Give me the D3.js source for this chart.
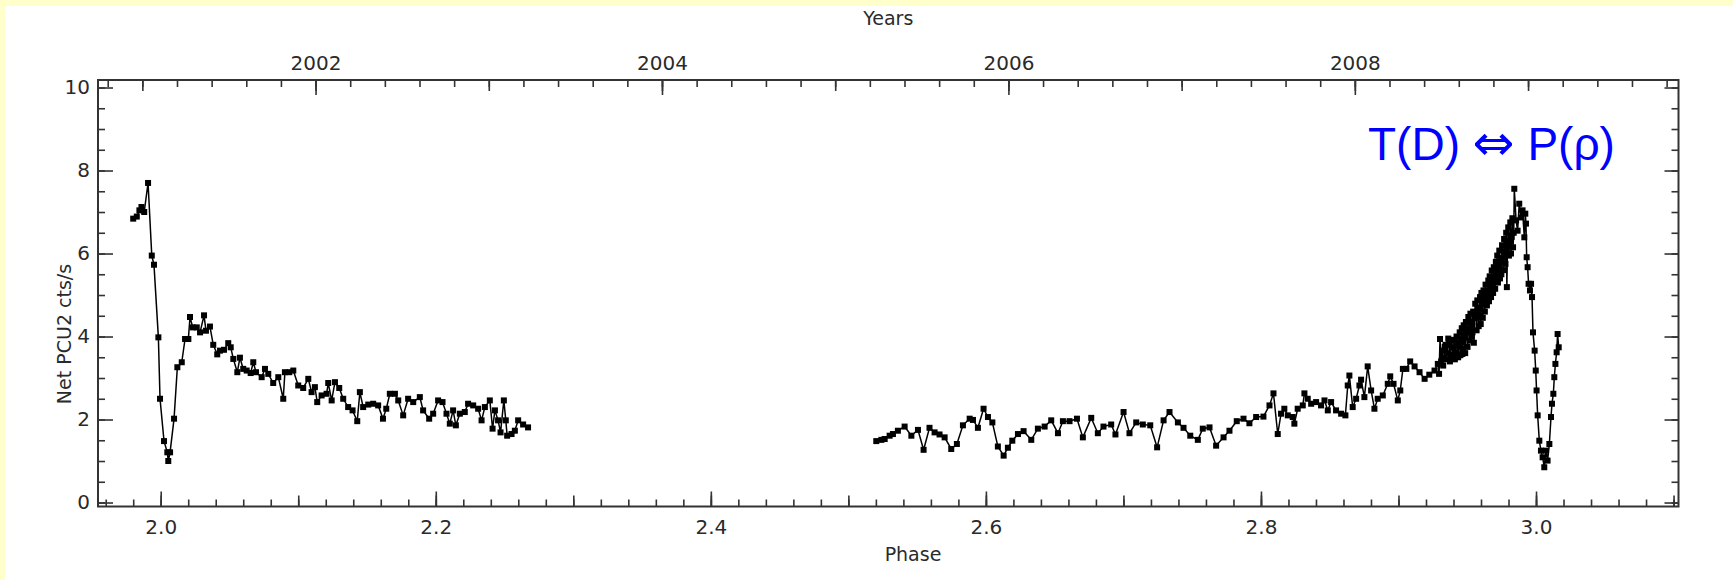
<!DOCTYPE html>
<html>
<head>
<meta charset="utf-8">
<script src="https://cdn.jsdelivr.net/npm/d3@7"></script>
<style>
  html, body { margin: 0; padding: 0; background: #fff; }
  svg { display: block; }
</style>
</head>
<body>
<svg id="chart"></svg>
<script>
// [phase, net PCU2 rate], one array per periastron passage
const passage2001 = [
  [1.9800, 6.84], [1.9826, 6.89], [1.9845, 7.04], [1.9860, 7.12], [1.9880, 7.00], [1.9908, 7.70],
  [1.9935, 5.95], [1.9951, 5.73], [1.9983, 3.98], [1.9995, 2.50], [2.0024, 1.48], [2.0048, 1.21],
  [2.0055, 1.00], [2.0068, 1.21], [2.0097, 2.02], [2.0121, 3.26], [2.0153, 3.38], [2.0177, 3.94],
  [2.0201, 3.94], [2.0213, 4.47], [2.0233, 4.22], [2.0262, 4.22], [2.0286, 4.10], [2.0315, 4.51],
  [2.0329, 4.14], [2.0358, 4.24], [2.0382, 3.80], [2.0411, 3.57], [2.0431, 3.66], [2.0460, 3.68],
  [2.0491, 3.84], [2.0509, 3.74], [2.0528, 3.46], [2.0557, 3.14], [2.0576, 3.49], [2.0600, 3.22],
  [2.0625, 3.18], [2.0654, 3.12], [2.0673, 3.38], [2.0693, 3.14], [2.0734, 3.02], [2.0758, 3.22],
  [2.0782, 3.10], [2.0818, 2.88], [2.0855, 3.02], [2.0891, 2.50], [2.0903, 3.14], [2.0935, 3.14],
  [2.0964, 3.18], [2.1000, 2.82], [2.1036, 2.76], [2.1073, 2.98], [2.1097, 2.66], [2.1121, 2.78],
  [2.1138, 2.42], [2.1170, 2.58], [2.1206, 2.62], [2.1218, 2.88], [2.1243, 2.46], [2.1267, 2.90],
  [2.1298, 2.76], [2.1327, 2.50], [2.1363, 2.30], [2.1395, 2.22], [2.1429, 1.96], [2.1448, 2.66],
  [2.1472, 2.30], [2.1509, 2.36], [2.1545, 2.38], [2.1581, 2.34], [2.1616, 2.02], [2.1640, 2.26],
  [2.1666, 2.62], [2.1703, 2.62], [2.1727, 2.46], [2.1763, 2.10], [2.1799, 2.50], [2.1836, 2.42],
  [2.1884, 2.54], [2.1908, 2.22], [2.1952, 2.02], [2.1981, 2.14], [2.2017, 2.46], [2.2049, 2.42],
  [2.2078, 2.14], [2.2102, 1.90], [2.2126, 2.22], [2.2146, 1.86], [2.2175, 2.14], [2.2211, 2.18],
  [2.2235, 2.38], [2.2272, 2.34], [2.2308, 2.26], [2.2333, 1.98], [2.2357, 2.30], [2.2393, 2.46],
  [2.2413, 1.78], [2.2430, 2.22], [2.2453, 1.98], [2.2471, 1.69], [2.2495, 2.46], [2.2509, 1.98],
  [2.2519, 1.61], [2.2551, 1.65], [2.2575, 1.73], [2.2599, 1.98], [2.2635, 1.88], [2.2671, 1.81]
];

const passage2009 = [
  [2.5203, 1.48], [2.5240, 1.51], [2.5264, 1.53], [2.5300, 1.61], [2.5324, 1.65], [2.5360, 1.73],
  [2.5409, 1.83], [2.5458, 1.61], [2.5506, 1.75], [2.5547, 1.27], [2.5590, 1.80], [2.5627, 1.69],
  [2.5663, 1.64], [2.5700, 1.57], [2.5748, 1.29], [2.5789, 1.41], [2.5833, 1.86], [2.5882, 2.02],
  [2.5906, 1.99], [2.5942, 1.80], [2.5983, 2.26], [2.6015, 2.06], [2.6047, 1.93], [2.6087, 1.35],
  [2.6129, 1.13], [2.6160, 1.32], [2.6192, 1.49], [2.6233, 1.65], [2.6274, 1.72], [2.6330, 1.51],
  [2.6378, 1.78], [2.6427, 1.83], [2.6475, 1.98], [2.6524, 1.67], [2.6560, 1.96], [2.6608, 1.96],
  [2.6662, 2.02], [2.6705, 1.57], [2.6766, 2.04], [2.6814, 1.67], [2.6855, 1.83], [2.6911, 1.88],
  [2.6942, 1.64], [2.7001, 2.18], [2.7044, 1.67], [2.7093, 1.93], [2.7141, 1.88], [2.7195, 1.86],
  [2.7245, 1.33], [2.7292, 1.98], [2.7335, 2.18], [2.7396, 1.93], [2.7437, 1.80], [2.7486, 1.61],
  [2.7541, 1.51], [2.7577, 1.78], [2.7626, 1.81], [2.7674, 1.37], [2.7728, 1.57], [2.7771, 1.73],
  [2.7824, 1.96], [2.7873, 2.02], [2.7916, 1.91], [2.7965, 2.06], [2.8018, 2.07], [2.8062, 2.34],
  [2.8091, 2.63], [2.8122, 1.65], [2.8146, 2.14], [2.8170, 2.26], [2.8195, 2.10], [2.8231, 2.06],
  [2.8243, 1.90], [2.8267, 2.26], [2.8304, 2.34], [2.8316, 2.63], [2.8340, 2.50], [2.8365, 2.38],
  [2.8401, 2.42], [2.8437, 2.34], [2.8462, 2.46], [2.8486, 2.22], [2.8510, 2.42], [2.8546, 2.22],
  [2.8583, 2.14], [2.8614, 2.10], [2.8631, 2.82], [2.8643, 3.06], [2.8667, 2.30], [2.8692, 2.50],
  [2.8716, 2.82], [2.8728, 2.96], [2.8752, 2.54], [2.8776, 3.28], [2.8801, 2.70], [2.8825, 2.26],
  [2.8849, 2.50], [2.8886, 2.58], [2.8922, 2.86], [2.8940, 3.04], [2.8964, 2.86], [2.8995, 2.46],
  [2.9013, 2.70], [2.9032, 3.22], [2.9057, 3.22], [2.9085, 3.40], [2.9117, 3.28], [2.9153, 3.14],
  [2.9190, 2.98], [2.9224, 3.08], [2.9262, 3.18], [2.9286, 3.34], [2.9295, 3.10], [2.9302, 3.94],
  [2.9310, 3.40], [2.9318, 3.66], [2.9325, 3.30], [2.9330, 3.48], [2.9336, 3.75], [2.9342, 3.80],
  [2.9348, 3.45], [2.9355, 3.60], [2.9362, 3.95], [2.9368, 3.84], [2.9374, 3.40], [2.9380, 3.56],
  [2.9386, 3.90], [2.9392, 3.74], [2.9398, 3.50], [2.9404, 3.92], [2.9410, 3.45], [2.9416, 3.62],
  [2.9422, 4.00], [2.9428, 3.78], [2.9434, 3.50], [2.9440, 3.86], [2.9445, 4.10], [2.9450, 3.55],
  [2.9455, 3.86], [2.9460, 4.20], [2.9464, 3.58], [2.9468, 3.70], [2.9474, 4.27], [2.9479, 3.98],
  [2.9485, 3.60], [2.9490, 4.35], [2.9496, 4.14], [2.9502, 3.75], [2.9508, 4.47], [2.9513, 4.20],
  [2.9518, 3.90], [2.9523, 4.55], [2.9528, 4.35], [2.9533, 4.00], [2.9538, 4.10], [2.9543, 4.60],
  [2.9548, 3.85], [2.9553, 4.45], [2.9558, 4.79], [2.9563, 4.55], [2.9568, 4.15], [2.9573, 4.87],
  [2.9578, 4.70], [2.9583, 4.25], [2.9588, 4.50], [2.9593, 4.95], [2.9598, 4.30], [2.9603, 5.05],
  [2.9608, 4.85], [2.9613, 4.45], [2.9618, 5.11], [2.9623, 4.95], [2.9628, 4.60], [2.9633, 5.25],
  [2.9638, 5.10], [2.9643, 4.75], [2.9648, 4.90], [2.9653, 5.35], [2.9658, 4.85], [2.9663, 5.45],
  [2.9668, 5.20], [2.9673, 4.95], [2.9678, 5.59], [2.9683, 5.30], [2.9688, 5.05], [2.9693, 5.67],
  [2.9698, 5.40], [2.9703, 5.15], [2.9708, 5.80], [2.9713, 5.50], [2.9718, 5.95], [2.9723, 5.30],
  [2.9728, 5.65], [2.9733, 6.07], [2.9738, 5.40], [2.9743, 5.80], [2.9748, 5.50], [2.9753, 6.20],
  [2.9758, 5.90], [2.9763, 5.60], [2.9768, 6.35], [2.9773, 6.05], [2.9778, 5.75], [2.9783, 6.50],
  [2.9788, 5.19], [2.9793, 6.20], [2.9798, 6.63], [2.9803, 5.95], [2.9808, 6.30], [2.9813, 6.75],
  [2.9818, 6.00], [2.9823, 6.40], [2.9828, 6.85], [2.9833, 6.15], [2.9838, 6.50], [2.9842, 7.56],
  [2.9855, 6.80], [2.9866, 6.55], [2.9878, 7.20], [2.9891, 6.87], [2.9902, 7.04], [2.9915, 6.39],
  [2.9922, 6.96], [2.9927, 6.72], [2.9932, 5.91], [2.9939, 5.67], [2.9946, 5.27], [2.9956, 5.11],
  [2.9964, 5.27], [2.9971, 4.95], [2.9978, 4.10], [2.9990, 3.66], [2.9998, 3.18], [3.0004, 2.70],
  [3.0012, 2.10], [3.0024, 1.49], [3.0036, 1.25], [3.0048, 1.09], [3.0060, 0.85], [3.0073, 1.25],
  [3.0084, 1.01], [3.0097, 1.41], [3.0109, 2.06], [3.0116, 2.38], [3.0126, 2.62], [3.0133, 3.02],
  [3.0141, 3.34], [3.0150, 3.62], [3.0157, 4.06], [3.0165, 3.74]
];

const phaseLabels = [2.0, 2.2, 2.4, 2.6, 2.8, 3.0];
const yearLabels = [2002, 2004, 2006, 2008];
const rateLabels = [0, 2, 4, 6, 8, 10];

const period = 7.94;          // orbital period in years
const yearAtPhase2 = 2001.106;

const width = 1733, height = 580;
const margin = {top: 80, right: 54.5, bottom: 73.5, left: 98};
const axisColor = "#333";
const tickFont = "'DejaVu Sans', sans-serif";

const svg = d3.select("#chart").attr("width", width).attr("height", height);

svg.append("rect").attr("width", width).attr("height", height).attr("fill", "#fff");
svg.append("rect").attr("width", width).attr("height", 6).attr("fill", "#ffffcc");
svg.append("rect").attr("width", 5).attr("height", height).attr("fill", "#ffffcc");

const xScale = d3.scaleLinear()
    .domain([1.9544, 3.1036])
    .range([margin.left, width - margin.right]);

const yScale = d3.scaleLinear()
    .domain([-0.096, 10.181])
    .range([height - margin.bottom, margin.top]);

const yearScale = d3.scaleLinear()
    .domain(xScale.domain().map(p => yearAtPhase2 + (p - 2) * period))
    .range(xScale.range());

const plotW = width - margin.left - margin.right;
const plotH = height - margin.top - margin.bottom;

function tickLayer(axis, transform, values, size, pad, format) {
    let g = svg.append("g")
        .attr("transform", transform)
        .call(axis.tickValues(values)
            .tickSize(-size)
            .tickSizeOuter(0)
            .tickPadding(pad)
            .tickFormat(format || (() => "")));
    g.select(".domain").remove();
    g.attr("font-family", tickFont).attr("font-size", 20);
    g.selectAll("line").attr("stroke", axisColor).attr("stroke-width", 1.6);
    g.selectAll("text").attr("fill", "#2a2a2a");
    return g;
}

// bottom: phase
const bottomT = `translate(0,${height - margin.bottom})`;
tickLayer(d3.axisBottom(xScale), bottomT, d3.range(98, 156).map(i => i / 50), 7, 0);
tickLayer(d3.axisBottom(xScale), bottomT, d3.range(20, 32).map(i => i / 10), 11, 0);
tickLayer(d3.axisBottom(xScale), bottomT, phaseLabels, 15, 13, d3.format(".1f"));

// top: years
const topT = `translate(0,${margin.top})`;
tickLayer(d3.axisTop(yearScale), topT, d3.range(10004, 10050).map(i => i / 5), 7, 0);
tickLayer(d3.axisTop(yearScale), topT, d3.range(2001, 2010), 11, 0);
tickLayer(d3.axisTop(yearScale), topT, yearLabels, 15, 10, d3.format("d"));

// left and right: count rate
const leftT = `translate(${margin.left},0)`;
const rightT = `translate(${width - margin.right},0)`;
tickLayer(d3.axisLeft(yScale), leftT, d3.range(0, 21).map(i => i / 2), 7, 0);
tickLayer(d3.axisLeft(yScale), leftT, rateLabels, 15, 8, d3.format("d"));
tickLayer(d3.axisRight(yScale), rightT, d3.range(0, 21).map(i => i / 2), 7, 0);
tickLayer(d3.axisRight(yScale), rightT, rateLabels, 14, 0);

svg.append("rect")
    .attr("x", margin.left)
    .attr("y", margin.top)
    .attr("width", plotW)
    .attr("height", plotH)
    .attr("fill", "none")
    .attr("stroke", axisColor)
    .attr("stroke-width", 2);

const lineGenerator = d3.line()
    .x(d => xScale(d[0]))
    .y(d => yScale(d[1]));

[passage2001, passage2009].forEach(series => {
    svg.append("path")
        .datum(series)
        .attr("fill", "none")
        .attr("stroke", "#000")
        .attr("stroke-width", 1.5)
        .attr("d", lineGenerator);

    svg.append("g")
        .selectAll("rect")
        .data(series)
        .enter()
        .append("rect")
        .attr("x", d => xScale(d[0]) - 3)
        .attr("y", d => yScale(d[1]) - 3)
        .attr("width", 6)
        .attr("height", 6)
        .attr("fill", "#000");
});

// axis titles
svg.append("text")
    .attr("x", margin.left + plotW / 2)
    .attr("y", 25)
    .attr("text-anchor", "middle")
    .attr("font-family", tickFont)
    .attr("font-size", 19)
    .attr("fill", "#2a2a2a")
    .text("Years");

svg.append("text")
    .attr("x", 913)
    .attr("y", 561)
    .attr("text-anchor", "middle")
    .attr("font-family", tickFont)
    .attr("font-size", 19)
    .attr("fill", "#2a2a2a")
    .text("Phase");

svg.append("text")
    .attr("transform", "translate(64,334) rotate(-90)")
    .attr("text-anchor", "middle")
    .attr("dy", "0.35em")
    .attr("font-family", tickFont)
    .attr("font-size", 19)
    .attr("fill", "#2a2a2a")
    .text("Net PCU2 cts/s");

// annotation; the double arrow needs a font that has a full-size glyph
let note = svg.append("text")
    .attr("x", 1368)
    .attr("y", 160)
    .attr("font-family", "'Liberation Sans', Arial, sans-serif")
    .attr("font-size", 46)
    .attr("fill", "#0000ff");
note.append("tspan").text("T(D) ");
note.append("tspan")
    .attr("font-family", "'DejaVu Sans', sans-serif")
    .attr("font-size", 50)
    .text("\u21D4");
note.append("tspan").text(" P(\u03C1)");
</script>
</body>
</html>
